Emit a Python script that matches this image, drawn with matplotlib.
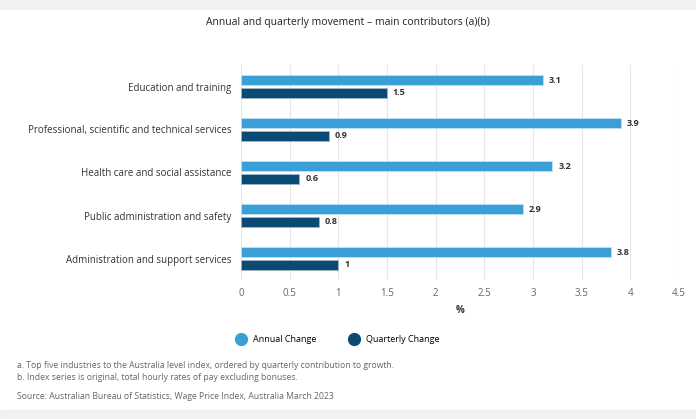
import matplotlib.pyplot as plt
import matplotlib.patches as mpatches
import numpy as np

# datos
industrias = ['Education and training',
              'Professional, scientific and technical services',
              'Health care and social assistance',
              'Public administration and safety',
              'Administration and support services']
anual = [3.1, 3.9, 3.2, 2.9, 3.8]
trimestral = [1.5, 0.9, 0.6, 0.8, 1]
series = ['Annual Change', 'Quarterly Change']
colores = ['#3a9fd6', '#0b4a73']
notas = ['a. Top five industries to the Australia level index, ordered by quarterly contribution to growth.',
         'b. Index series is original, total hourly rates of pay excluding bonuses.']
fuente = 'Source: Australian Bureau of Statistics, Wage Price Index, Australia March 2023'

plt.rcParams['font.family'] = ['Open Sans', 'DejaVu Sans']

fig = plt.figure(figsize=(6.96, 4.19), dpi=100)
ax = fig.add_axes([241/696, 1 - 280/419, 438/696, 215/419])

y = np.arange(len(industrias))
alto = 0.24
off = 0.15
b1 = ax.barh(y - off, anual, alto, color=colores[0], edgecolor='#bfe0f3', linewidth=0.6, zorder=3)
b2 = ax.barh(y + off, trimestral, alto, color=colores[1], edgecolor='#9fb7c8', linewidth=0.6, zorder=3)

for barras, vals in [(b1, anual), (b2, trimestral)]:
    for r, v in zip(barras, vals):
        ax.text(r.get_width() + 0.06, r.get_y() + r.get_height() / 2, f'{v:g}',
                va='center', ha='left', fontsize=6.5, color='#333333', fontweight='bold')

ax.set_ylim(len(industrias) - 0.5, -0.5)
ax.set_xlim(0, 4.5)
ax.set_xticks(np.arange(0, 4.6, 0.5))
ax.set_xticklabels([f'{t:g}' for t in np.arange(0, 4.6, 0.5)])
ax.set_yticks(y)
ax.set_yticklabels(industrias)
ax.tick_params(axis='y', length=0, pad=7, labelsize=7, labelcolor='#333333')
ax.tick_params(axis='x', length=0, pad=6, labelsize=7, labelcolor='#666666')
ax.grid(axis='x', color='#e6e6e6', linewidth=0.8, zorder=0)
for s in ax.spines.values():
    s.set_visible(False)
ax.set_xlabel('%', fontsize=7, fontweight='bold', color='#333333', labelpad=4)

fig.text(0.5, 1 - 22/419, 'Annual and quarterly movement \u2013 main contributors (a)(b)',
         ha='center', va='center', fontsize=7.5, color='#222222')

# leyenda
handles = [plt.Line2D([], [], marker='o', linestyle='', markersize=8.5, color=c) for c in colores]
fig.legend(handles, series, loc='center', bbox_to_anchor=(336/696, 1 - 340/419), ncol=2,
           frameon=False, fontsize=6.5, handletextpad=0.3, columnspacing=3.2)

fig.text(17/696, 1 - 365/419, notas[0], fontsize=6.2, color='#666666', va='center')
fig.text(17/696, 1 - 377/419, notas[1], fontsize=6.2, color='#666666', va='center')
fig.text(17/696, 1 - 396/419, fuente, fontsize=6.2, color='#666666', va='center')

# bandas grises arriba y abajo
fig.patches.append(mpatches.Rectangle((0, 1 - 9/419), 1, 9/419, transform=fig.transFigure,
                                      color='#f2f2f2', zorder=0))
fig.patches.append(mpatches.Rectangle((0, 0), 1, 9/419, transform=fig.transFigure,
                                      color='#f2f2f2', zorder=0))

fig.savefig('out.png', dpi=100)
